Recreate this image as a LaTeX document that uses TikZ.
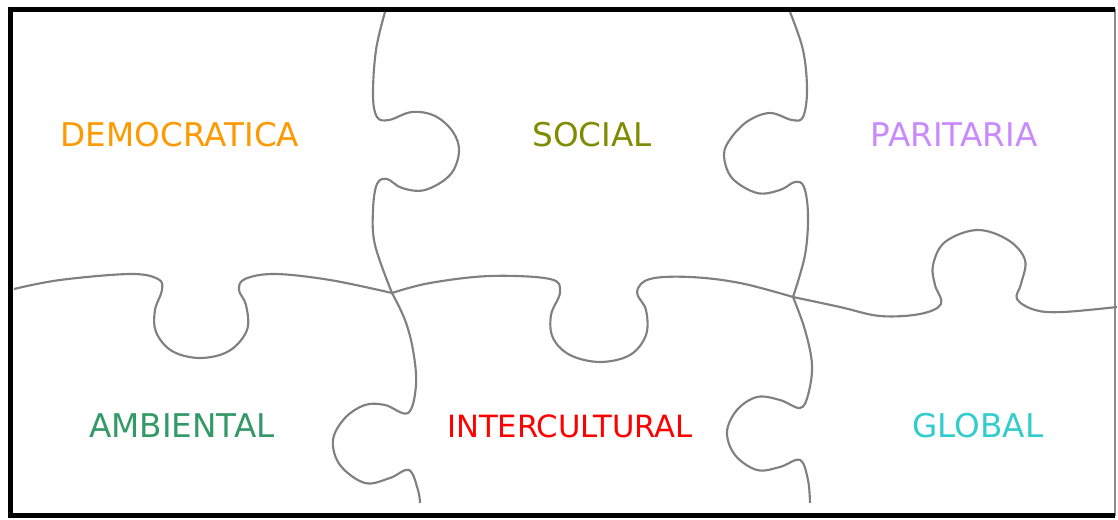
\documentclass[tikz,border=0pt]{standalone}
\usepackage{fontspec}
\setmainfont{DejaVu Sans}
\usepackage{tikz}
\definecolor{democ}{HTML}{FF9900}
\definecolor{soc}{HTML}{7F8C00}
\definecolor{parit}{HTML}{C98AFF}
\definecolor{ambi}{HTML}{339966}
\definecolor{inter}{HTML}{FF0000}
\definecolor{glob}{HTML}{33CCCC}
\tikzset{
  seam/.style={draw=black!50, line width=1.6pt, line join=round},
  word/.style={font=\fontsize{24.5}{24.5}\selectfont, inner sep=0pt}
}

\begin{document}
\begin{tikzpicture}[x=0.75pt,y=-0.75pt]
      \useasboundingbox (0,0) rectangle (1118,520);
      % frame
      \draw[black!45, line width=0.8pt] (1115,9) -- (1115,516);
      \draw[line width=3.75pt] (1115,9.5) -- (10.5,9.5) -- (10.5,515.5) -- (1115,515.5);
      % upper seams
      \draw[seam] plot[smooth, tension=0.6] coordinates {(385,12) (376,50) (373,95) (377,117)
        (389,120) (412,112) (435,116) (453,132) (459,152) (450,175) (425,190) (402,188)
        (387,179) (377,184) (373,210) (375,245) (392,293)};
      \draw[seam] plot[smooth, tension=0.6] coordinates {(790,12) (803,50) (807,90) (803,117)
        (792,120) (770,113) (748,121) (731,138) (724,155) (732,178) (757,193) (780,190)
        (795,182) (804,187) (808,215) (805,255) (793,297)};
      % middle seams
      \draw[seam] plot[smooth, tension=0.6] coordinates {(14,289) (60,280) (130,274) (158,279)
        (162,290) (155,310) (156,332) (172,351) (200,358) (229,351) (247,330) (246,305)
        (239,290) (245,279) (275,274) (330,280) (392,293)};
      \draw[seam] plot[smooth, tension=0.6] coordinates {(392,293) (430,283) (490,276) (550,279)
        (560,292) (551,315) (553,338) (570,355) (600,362) (630,355) (646,335) (646,310)
        (637,292) (650,279) (690,277) (740,283) (793,297)};
      \draw[seam] plot[smooth, tension=0.6] coordinates {(793,297) (840,307) (880,316) (920,314)
        (941,304) (935,285) (933,265) (945,242) (977,230) (1008,240) (1025,260) (1021,284)
        (1017,299) (1035,310) (1063,312) (1117,307)};
      % lower seams
      \draw[seam] plot[smooth, tension=0.6] coordinates {(392,293) (405,320) (413,350) (416,385)
        (408,413) (385,405) (365,405) (345,418) (333,440) (340,465) (365,483) (390,478)
        (409,470) (418,490) (420,503)};
      \draw[seam] plot[smooth, tension=0.6] coordinates {(793,297) (805,330) (812,365) (808,395)
        (800,408) (780,400) (757,397) (737,410) (727,432) (735,455) (757,470) (780,467)
        (800,460) (808,480) (810,503)};
      % labels
      \node[word, text=democ] (democratica) at (180,135) {DEMOCRATICA};
      \node[word, text=soc] (social) at (592,135) {SOCIAL};
      \node[word, text=parit] (paritaria) at (954,135) {PARITARIA};
      \node[word, text=ambi] (ambiental) at (182,426) {AMBIENTAL};
      \node[word, text=inter, font=\fontsize{23}{23}\selectfont] (intercultural) at (570,426) {INTERCULTURAL};
      \node[word, text=glob] (global) at (978,426) {GLOBAL};
  \end{tikzpicture}
\end{document}
